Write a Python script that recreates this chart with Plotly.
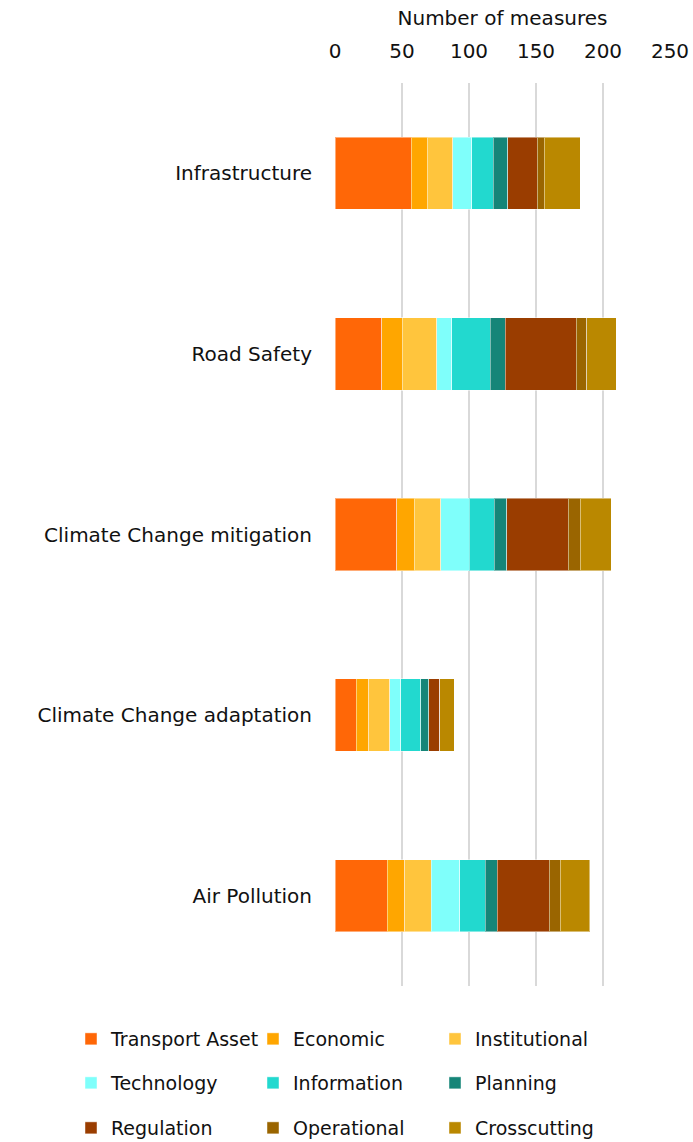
import plotly.graph_objects as go

categories = ["Infrastructure", "Road Safety", "Climate Change mitigation",
              "Climate Change adaptation", "Air Pollution"]

series_names = ["Transport Asset", "Economic", "Institutional",
                "Technology", "Information", "Planning",
                "Regulation", "Operational", "Crosscutting"]

transport_asset = [57, 35, 46, 16, 39]
economic = [12, 15, 13, 9, 13]
institutional = [19, 26, 20, 16, 20]
technology = [14, 11, 21, 8, 21]
information = [16, 29, 19, 15, 19]
planning = [11, 11, 9, 6, 9]
regulation = [22, 53, 46, 8, 39]
operational = [5, 8, 9, 0, 8]
crosscutting = [27, 22, 23, 11, 22]

series_values = [transport_asset, economic, institutional, technology,
                 information, planning, regulation, operational, crosscutting]

colors = ["#FF6707", "#FFA600", "#FFC53D", "#7FFFFB", "#22D9CF",
          "#158578", "#9A3D00", "#9A6500", "#BA8800"]

x_ticks = [0, 50, 100, 150, 200, 250]

FONT = "DejaVu Sans"
TXT = "#111111"
W, H = 693, 1142
left, right, top, bottom = 335, 23, 83, 156
plot_w = W - left - right
plot_h = H - top - bottom

fig = go.Figure()
legend_ids = ["legend", "legend", "legend", "legend2", "legend2", "legend2",
              "legend3", "legend3", "legend3"]
for name, vals, col, lg in zip(series_names, series_values, colors, legend_ids):
    fig.add_trace(go.Bar(
        y=categories, x=vals, name=name, orientation="h",
        marker=dict(color=col, line=dict(color="rgba(255,255,255,0.45)", width=1)),
        legend=lg,
    ))


def legend_cfg(ypix, xpix=71):
    return dict(
        orientation="h", xref="paper", yref="paper",
        x=(xpix - left) / plot_w, y=-(ypix - (top + plot_h)) / plot_h,
        xanchor="left", yanchor="middle",
        entrywidth=137, entrywidthmode="pixels",
        font=dict(family=FONT, size=19, color=TXT),
        traceorder="normal", bgcolor="rgba(0,0,0,0)",
    )


fig.update_layout(
    width=W, height=H,
    barmode="stack", bargap=0.6,
    plot_bgcolor="white", paper_bgcolor="white",
    margin=dict(l=left, r=right, t=top, b=bottom, autoexpand=False),
    font=dict(family=FONT, size=20, color=TXT),
    legend=legend_cfg(1039),
    legend2=legend_cfg(1083),
    legend3=legend_cfg(1128),
    xaxis=dict(
        side="top", range=[0, 250], tickvals=x_ticks,
        showgrid=True, gridcolor="#d9d9d9", gridwidth=2,
        zeroline=False, showline=False, ticks="",
        ticklabelstandoff=20,
        title=dict(text="Number of measures", standoff=8,
                   font=dict(family=FONT, size=20, color=TXT)),
        tickfont=dict(family=FONT, size=20, color=TXT),
    ),
    yaxis=dict(
        categoryorder="array", categoryarray=categories, autorange="reversed",
        showgrid=False, zeroline=False, showline=False, ticks="",
        ticklabelstandoff=22,
        tickfont=dict(family=FONT, size=20, color=TXT),
    ),
)

fig.write_html("out.html")
